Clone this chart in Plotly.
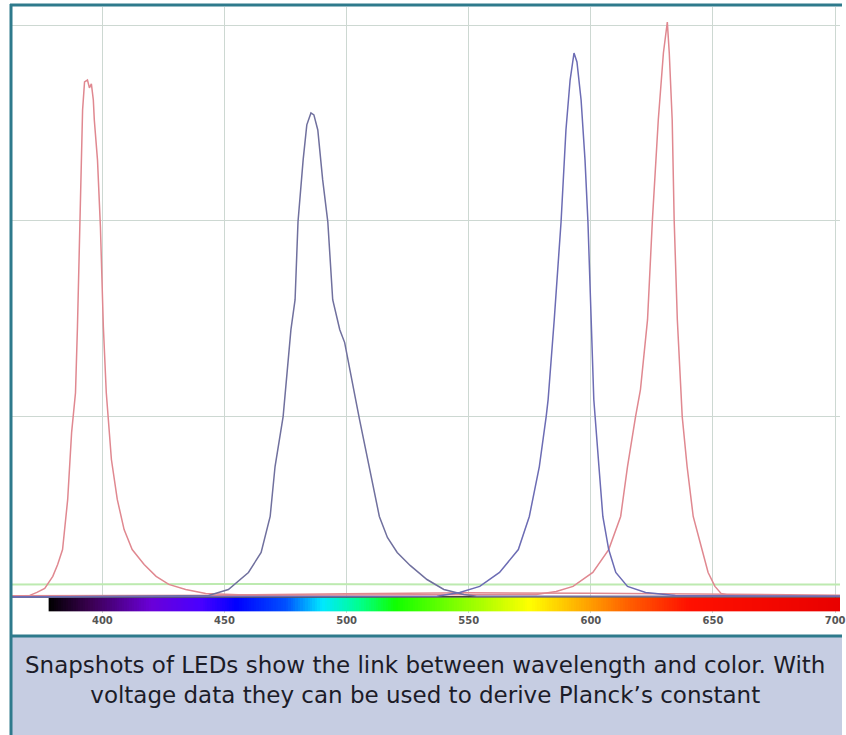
import plotly.graph_objects as go

# ---------------- data ----------------
# wavelength in nm, intensity in grid units (one unit = one horizontal grid step)
wl_violet = [363.0, 370.3, 373.2, 376.4, 379.7, 381.7, 383.7, 385.8, 387.4, 389.0, 389.8,
             390.7, 391.5, 391.9, 392.7, 393.9, 394.7, 395.5, 396.3, 396.7, 398.0, 399.2,
             400.4, 401.6, 403.7, 406.1, 408.9, 412.2, 417.1, 422.0, 427.2, 434.1, 442.3,
             455.7, 500.0, 550.0, 600.0, 650.0, 702.0]
int_violet = [0.082, 0.087, 0.102, 0.122, 0.184, 0.245, 0.321, 0.577, 0.918, 1.122, 1.459,
              1.969, 2.311, 2.566, 2.709, 2.719, 2.679, 2.699, 2.617, 2.515, 2.311, 1.969,
              1.459, 1.122, 0.781, 0.577, 0.423, 0.321, 0.245, 0.184, 0.143, 0.117, 0.097,
              0.090, 0.095, 0.100, 0.098, 0.092, 0.088]

wl_cyan = [363.0, 419.1, 443.5, 451.6, 459.8, 465.0, 468.7, 470.7, 474.0, 477.2, 478.9,
           480.1, 482.2, 483.7, 485.4, 486.6, 488.2, 490.2, 492.3, 494.3, 497.2, 499.2,
           501.2, 503.7, 505.3, 509.3, 513.4, 516.7, 520.7, 526.0, 532.9, 539.8, 548.0,
           553.3, 702.0]
int_cyan = [0.077, 0.082, 0.087, 0.117, 0.204, 0.306, 0.490, 0.745, 1.000, 1.444, 1.597,
            1.995, 2.311, 2.490, 2.551, 2.541, 2.464, 2.209, 1.995, 1.597, 1.444, 1.378,
            1.240, 1.087, 0.985, 0.745, 0.490, 0.383, 0.306, 0.240, 0.168, 0.117, 0.092,
            0.082, 0.082]

wl_amber = [363.0, 537.0, 546.3, 554.5, 562.6, 570.3, 574.8, 578.9, 581.7, 582.5, 585.0,
            587.8, 589.8, 591.5, 593.1, 594.3, 596.0, 597.6, 598.8, 600.0, 601.2, 603.3,
            604.9, 607.3, 610.2, 615.0, 622.4, 634.6, 702.0]
int_amber = [0.080, 0.082, 0.102, 0.133, 0.204, 0.321, 0.490, 0.745, 1.000, 1.087, 1.495,
             1.995, 2.464, 2.719, 2.857, 2.811, 2.617, 2.311, 1.995, 1.495, 1.087, 0.745,
             0.490, 0.321, 0.204, 0.133, 0.102, 0.087, 0.082]

wl_red = [363.0, 561.4, 577.6, 585.8, 592.7, 600.8, 607.3, 612.2, 615.0, 618.3, 620.3,
          623.2, 625.2, 627.6, 629.7, 631.3, 632.1, 633.3, 634.1, 635.4, 636.6, 637.4,
          639.4, 641.9, 645.5, 648.0, 650.8, 653.3, 658.9, 702.0]
int_red = [0.085, 0.090, 0.092, 0.107, 0.133, 0.204, 0.321, 0.490, 0.745, 1.000, 1.138,
           1.495, 2.005, 2.515, 2.857, 3.015, 2.857, 2.515, 2.005, 1.495, 1.153, 1.000,
           0.745, 0.490, 0.321, 0.204, 0.133, 0.097, 0.082, 0.082]

wl_green = [363.0, 450.0, 550.0, 650.0, 702.0]
int_green = [0.143, 0.145, 0.143, 0.145, 0.143]

wl_dark = [363.0, 420.0, 480.0, 540.0, 600.0, 660.0, 702.0]
int_dark = [0.079, 0.079, 0.081, 0.080, 0.081, 0.079, 0.080]

tick_vals = [400, 450, 500, 550, 600, 650, 700]
tick_text = ["400", "450", "500", "550", "600", "650", "700"]

spec_wl = [378, 395, 420, 440, 455, 475, 490, 505, 520, 545, 575, 595, 615, 640, 703]
spec_col = ["#000000", "#3a0050", "#6a00d8", "#4a00ff", "#0000ff", "#0050ff", "#00e8ff",
            "#00ff90", "#10ff00", "#80ff00", "#ffff00", "#ffb000", "#ff6000", "#ff1000",
            "#e80000"]

caption = ("Snapshots of LEDs show the link between wavelength and color. With<br>"
           "voltage data they can be used to derive Planck\u2019s constant")

# ---------------- figure ----------------
W, H = 846, 735
ML, MR, MT, MB = 12, 0, 7, 122
PW, PH = W - ML - MR, H - MT - MB


def px_x(px):
    return (px - ML) / PW


def px_y(py):
    return (H - MB - py) / PH


fig = go.Figure()

# spectrum colour strip
zmin, zmax = spec_wl[0], spec_wl[-1]
cscale = [[(w - zmin) / (zmax - zmin), c] for w, c in zip(spec_wl, spec_col)]
strip_edges = list(range(spec_wl[0], spec_wl[-1] + 1))
strip_z = [[e + 0.5 for e in strip_edges[:-1]]]
fig.add_trace(go.Heatmap(x=strip_edges, y=[0.005, 0.077], z=strip_z,
                         colorscale=cscale, zmin=zmin, zmax=zmax,
                         showscale=False, hoverinfo="skip"))

fig.add_trace(go.Scatter(x=wl_green, y=int_green, mode="lines",
                         line=dict(color="#bdeab0", width=2), hoverinfo="skip"))
fig.add_trace(go.Scatter(x=wl_dark, y=int_dark, mode="lines",
                         line=dict(color="#3a3a3a", width=1.5), hoverinfo="skip"))

pink = "#e08890"
blue = "#6c6cb4"
fig.add_trace(go.Scatter(x=wl_violet, y=int_violet, mode="lines",
                         line=dict(color=pink, width=1.5), name="violet"))
fig.add_trace(go.Scatter(x=wl_red, y=int_red, mode="lines",
                         line=dict(color=pink, width=1.5), name="red"))
fig.add_trace(go.Scatter(x=wl_cyan, y=int_cyan, mode="lines",
                         line=dict(color="#70709e", width=1.5), name="cyan"))
fig.add_trace(go.Scatter(x=wl_amber, y=int_amber, mode="lines",
                         line=dict(color=blue, width=1.5), name="amber"))

teal = "#2e7a8c"
shapes = [
    dict(type="rect", xref="paper", yref="paper", x0=px_x(10), x1=px_x(W + 2),
         y0=px_y(636), y1=px_y(H + 2), fillcolor="#c6cde2", line=dict(width=0), layer="below"),
    dict(type="line", xref="paper", yref="paper", x0=px_x(11), x1=px_x(11),
         y0=px_y(4), y1=px_y(H + 2), line=dict(color=teal, width=3)),
    dict(type="line", xref="paper", yref="paper", x0=px_x(10), x1=px_x(W + 2),
         y0=px_y(5), y1=px_y(5), line=dict(color=teal, width=3)),
    dict(type="line", xref="paper", yref="paper", x0=px_x(10), x1=px_x(W + 2),
         y0=px_y(636), y1=px_y(636), line=dict(color=teal, width=3)),
]

fig.update_layout(
    width=W, height=H,
    margin=dict(l=ML, r=MR, t=MT, b=MB),
    paper_bgcolor="white", plot_bgcolor="white",
    showlegend=False,
    shapes=shapes,
    annotations=[dict(text=caption, xref="paper", yref="paper",
                      x=px_x(428), y=px_y(680), xanchor="center", yanchor="middle",
                      showarrow=False, align="center",
                      font=dict(family="DejaVu Sans", size=23, color="#1c1c28"))],
    xaxis=dict(range=[363, 702], tickvals=tick_vals, ticktext=tick_text,
               showgrid=True, gridcolor="#cdd8d2", gridwidth=1,
               zeroline=False, showline=False, ticks="", ticklabeloverflow="allow",
               tickfont=dict(family="DejaVu Sans", size=10, color="#555555", weight="bold")),
    yaxis=dict(range=[-0.003, 3.092], dtick=1, tick0=0,
               showgrid=True, gridcolor="#cdd8d2", gridwidth=1,
               zeroline=False, showline=False, showticklabels=False, ticks=""),
)

fig.write_html("out.html", config={"displayModeBar": False},
               post_script="document.body.style.margin='0';document.body.style.overflow='hidden';")
